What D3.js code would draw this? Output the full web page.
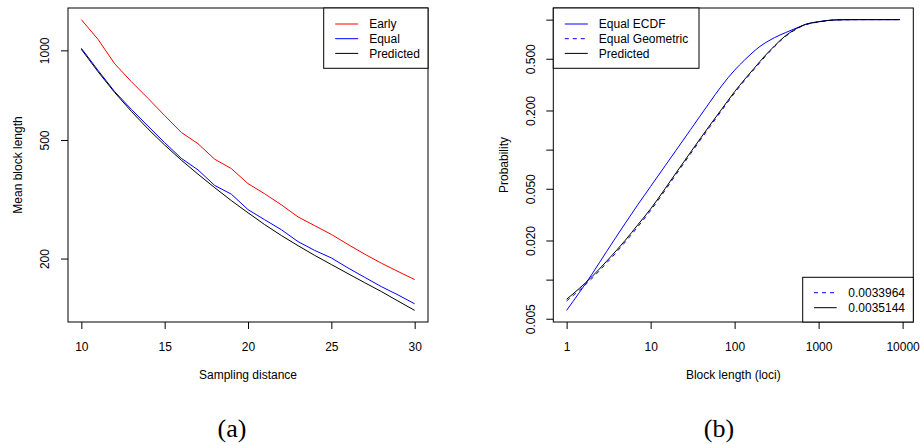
<!DOCTYPE html>
<html>
<head>
<meta charset="utf-8">
<script src="https://cdn.jsdelivr.net/npm/d3@7"></script>
<style>
  body { margin: 0; background: #fff; }
  svg text { font-family: "Liberation Sans", Arial, Helvetica, sans-serif; font-size: 12px; fill: #000; }
  .caption { font-family: "Liberation Serif", "DejaVu Serif", serif; font-size: 26px; }
</style>
</head>
<body>
<svg id="chart" width="923" height="445"></svg>
<script>
// panel (a): mean block length against sampling distance
const distance = [10, 11, 12, 13, 14, 15, 16, 17, 18, 19, 20, 21, 22, 23, 24, 25, 26, 27, 28, 29, 30];
const earlyLen = [1268, 1089, 902, 785, 690, 604, 530, 486, 431, 401, 357, 330, 303, 276, 258, 241, 223, 207, 193, 181, 170];
const equalLen = [1016, 857, 727, 634, 557, 490, 434, 397, 352, 329, 292, 270, 250, 228, 213, 201, 186, 173, 161, 151, 141];
const predictedLen = [1008, 848, 722, 624, 545, 481, 428, 384, 346, 313, 285, 260, 239, 221, 205, 191, 178, 166, 155, 144, 134];

// panel (b): cumulative probability of block length
const blockLen = [1, 2, 3, 5, 7, 10, 15, 20, 30, 50, 70, 100, 130, 170, 200, 250, 300, 400, 500, 700, 1000, 1500, 2000, 3000, 5000, 9300];
const ecdfProb = [0.0058, 0.0110, 0.0165, 0.0272, 0.0375, 0.0521, 0.0756, 0.0985, 0.1430, 0.2288, 0.3093, 0.4088, 0.4859, 0.5706, 0.6218, 0.6823, 0.7283, 0.7925, 0.8415, 0.918, 0.965, 0.9943, 0.9986, 1, 1, 1];
const geomProb = [0.00686, 0.0102, 0.01345, 0.0195, 0.0254, 0.0340, 0.0490, 0.0641, 0.0932, 0.148, 0.1995, 0.273, 0.337, 0.413, 0.467, 0.549, 0.621, 0.739, 0.818, 0.914, 0.958, 0.992, 0.998, 1, 1, 1];
const predProb = [0.00706, 0.01053, 0.01388, 0.0201, 0.0263, 0.0350, 0.0505, 0.0660, 0.0958, 0.152, 0.2045, 0.279, 0.344, 0.421, 0.476, 0.559, 0.630, 0.748, 0.826, 0.920, 0.962, 0.993, 0.9985, 1, 1, 1];

// ticks
const ticksAx = [10, 15, 20, 25, 30];
const ticksAy = [200, 500, 1000];
const ticksBx = [1, 10, 100, 1000, 10000];
const ticksBy = [0.005, 0.01, 0.02, 0.05, 0.1, 0.2, 0.5, 1];
const labelsBy = ["0.005", "", "0.020", "0.050", "", "0.200", "0.500", ""];

const svg = d3.select("#chart");

// R style axis range: data range padded by 4% each side
function rRange(vals, log) {
    let lo = d3.min(vals), hi = d3.max(vals);
    if (log) { lo = Math.log10(lo); hi = Math.log10(hi); }
    const pad = (hi - lo) * 0.04;
    lo -= pad; hi += pad;
    return log ? [Math.pow(10, lo), Math.pow(10, hi)] : [lo, hi];
}

const plotTop = 8, plotBottom = 322;

// draws box, axes and titles for one panel
function drawFrame(left, right, x, y, xTicks, xFmt, yTicks, yFmt, xTitle, yTitle) {
    const g = svg.append("g");

    g.append("g")
        .attr("transform", `translate(0, ${plotBottom})`)
        .call(d3.axisBottom(x).tickValues(xTicks).tickFormat(xFmt).tickSize(7).tickPadding(13))
        .call(a => a.select(".domain").remove())
        .call(a => a.selectAll("text").attr("font-size", null).attr("font-family", null));

    g.append("g")
        .attr("transform", `translate(${left}, 0)`)
        .call(d3.axisLeft(y).tickValues(yTicks).tickFormat(yFmt).tickSize(7))
        .call(a => a.select(".domain").remove())
        .call(a => a.selectAll("text")
            .attr("font-size", null).attr("font-family", null)
            .attr("x", null).attr("dy", "0.35em")
            .attr("text-anchor", "middle")
            .attr("transform", "translate(-23,0) rotate(-90)"));

    g.selectAll(".tick line").attr("stroke", "#000");

    g.append("rect")
        .attr("x", left).attr("y", plotTop)
        .attr("width", right - left).attr("height", plotBottom - plotTop)
        .attr("fill", "none").attr("stroke", "#000");

    g.append("text")
        .attr("x", (left + right) / 2).attr("y", plotBottom + 53)
        .attr("dy", "0.35em").attr("text-anchor", "middle")
        .text(xTitle);

    g.append("text")
        .attr("transform", `translate(${left - 50}, ${(plotTop + plotBottom) / 2}) rotate(-90)`)
        .attr("dy", "0.35em").attr("text-anchor", "middle")
        .text(yTitle);
    return g;
}

// legend box with line keys
function drawLegend(x0, y0, w, items) {
    const g = svg.append("g");
    g.append("rect")
        .attr("x", x0).attr("y", y0).attr("width", w).attr("height", 15 * items.length + 15.3)
        .attr("fill", "#fff").attr("stroke", "#000");
    items.forEach((it, i) => {
        const yy = y0 + 16 + i * 14.7;
        g.append("line")
            .attr("x1", x0 + 11.5).attr("x2", x0 + 34.5)
            .attr("y1", yy).attr("y2", yy)
            .attr("stroke", it.color).attr("stroke-dasharray", it.dash || null);
        g.append("text")
            .attr("x", x0 + 45.5).attr("y", yy).attr("dy", "0.35em")
            .text(it.label);
    });
}

// ---- panel (a)
const aLeft = 68, aRight = 428;
const xA = d3.scaleLinear().domain(rRange(distance, false)).range([aLeft, aRight]);
const yA = d3.scaleLog()
    .domain(rRange(earlyLen.concat(equalLen, predictedLen), true))
    .range([plotBottom, plotTop]);

drawFrame(aLeft, aRight, xA, yA, ticksAx, d3.format("d"), ticksAy, d3.format("d"),
    "Sampling distance", "Mean block length");

const lineA = d3.line().x((d, i) => xA(distance[i])).y(d => yA(d));
[[earlyLen, "#ff0000"], [equalLen, "#0000ff"], [predictedLen, "#000"]].forEach(([s, c]) => {
    svg.append("path").datum(s)
        .attr("d", lineA).attr("fill", "none").attr("stroke", c).attr("stroke-width", 1);
});

drawLegend(323.7, plotTop, aRight - 323.7, [
    { label: "Early", color: "#ff0000" },
    { label: "Equal", color: "#0000ff" },
    { label: "Predicted", color: "#000" }
]);

// ---- panel (b)
const bLeft = 553.3, bRight = 913.3;
const xB = d3.scaleLog().domain(rRange(blockLen, true)).range([bLeft, bRight]);
const yB = d3.scaleLog()
    .domain(rRange(ecdfProb.concat(geomProb, predProb), true))
    .range([plotBottom, plotTop]);

drawFrame(bLeft, bRight, xB, yB, ticksBx, d3.format("d"), ticksBy, (d, i) => labelsBy[i],
    "Block length (loci)", "Probability");

const lineB = d3.line().x((d, i) => xB(blockLen[i])).y(d => yB(d)).curve(d3.curveMonotoneX);
svg.append("path").datum(ecdfProb)
    .attr("d", lineB).attr("fill", "none").attr("stroke", "#0000ff");
svg.append("path").datum(geomProb)
    .attr("d", lineB).attr("fill", "none").attr("stroke", "#0000ff").attr("stroke-dasharray", "4,4");
svg.append("path").datum(predProb)
    .attr("d", lineB).attr("fill", "none").attr("stroke", "#000");

drawLegend(bLeft, plotTop, 699 - bLeft, [
    { label: "Equal ECDF", color: "#0000ff" },
    { label: "Equal Geometric", color: "#0000ff", dash: "4,4" },
    { label: "Predicted", color: "#000" }
]);

// bottom-right legend with the two rates
const g2 = svg.append("g");
g2.append("rect")
    .attr("x", 802.7).attr("y", 277.3).attr("width", bRight - 802.7).attr("height", plotBottom - 277.3)
    .attr("fill", "#fff").attr("stroke", "#000");
[["0.0033964", "#0000ff", "4,4"], ["0.0035144", "#000", null]].forEach(([t, c, dash], i) => {
    const yy = 292.7 + i * 15;
    g2.append("line").attr("x1", 814).attr("x2", 836.7).attr("y1", yy).attr("y2", yy)
        .attr("stroke", c).attr("stroke-dasharray", dash);
    g2.append("text").attr("x", 848.3).attr("y", yy).attr("dy", "0.35em").text(t);
});

// captions
svg.append("text").attr("class", "caption").attr("x", 232).attr("y", 437)
    .attr("text-anchor", "middle").text("(a)");
svg.append("text").attr("class", "caption").attr("x", 719).attr("y", 437)
    .attr("text-anchor", "middle").text("(b)");
</script>
</body>
</html>
